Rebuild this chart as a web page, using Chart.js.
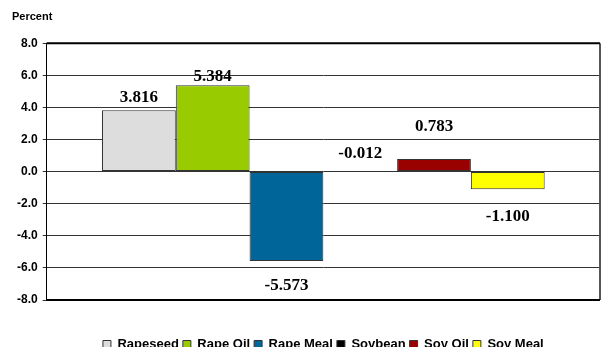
<!DOCTYPE html>
<html>
<head>
<meta charset="utf-8">
<script src="https://cdn.jsdelivr.net/npm/chart.js@4.4.0/dist/chart.umd.min.js"></script>
<style>
  html, body { margin: 0; padding: 0; background: #fff; overflow: hidden; }
</style>
</head>
<body>
<canvas id="bar-chart" width="603" height="361"></canvas>
<script>
// data
var categories = [''];
var seriesNames = ['Rapeseed', 'Rape Oil', 'Rape Meal', 'Soybean', 'Soy Oil', 'Soy Meal'];
var seriesValues = [3.816, 5.384, -5.573, -0.012, 0.783, -1.100];
var seriesColors = ['#DDDDDD', '#99CC00', '#006699', '#000000', '#990000', '#FFFF00'];
var yTicks = [-8, -6, -4, -2, 0, 2, 4, 6, 8];

// label offset from bar end, in px (excel put them a bit all over)
var labelOffsets = [-13, -9, 25, -18, -32, 27];

//Value labels
var valueLabels = {
  id: 'valueLabels',
  afterDatasetsDraw: function (chart) {
    var ctx = chart.ctx;
    ctx.save();
    ctx.font = 'bold 17px "Liberation Serif", "Times New Roman", serif';
    ctx.fillStyle = '#000';
    ctx.textAlign = 'center';
    ctx.textBaseline = 'middle';
    chart.data.datasets.forEach(function (ds, i) {
      var bar = chart.getDatasetMeta(i).data[0];
      var y = i === 3 ? chart.scales.y.getPixelForValue(0) : bar.y;
      ctx.fillText(ds.data[0].toFixed(3), bar.x, y + labelOffsets[i]);
    });
    ctx.restore();
  }
};

//Center legend under the plot, not the canvas
var legendShift = {
  id: 'legendShift',
  afterLayout: function (chart) {
    var lg = chart.legend, a = chart.chartArea;
    var w = lg.right - lg.left;
    var mid = (a.left + a.right) / 2;
    lg.left = mid - w / 2;
    lg.right = mid + w / 2;
  }
};

//Plot frame
var frame = {
  id: 'frame',
  afterDraw: function (chart) {
    var a = chart.chartArea, ctx = chart.ctx;
    ctx.save();
    ctx.strokeStyle = '#555';
    ctx.lineWidth = 2;
    ctx.beginPath();
    ctx.moveTo(a.right, a.top);
    ctx.lineTo(a.right, a.bottom);
    ctx.stroke();
    ctx.strokeStyle = '#000';
    ctx.beginPath();
    ctx.moveTo(a.left, a.top);
    ctx.lineTo(a.right, a.top);
    ctx.moveTo(a.left, a.bottom);
    ctx.lineTo(a.right, a.bottom);
    ctx.stroke();
    ctx.restore();
  }
};

new Chart(document.getElementById('bar-chart'), {
  type: 'bar',
  data: {
    labels: categories,
    datasets: seriesNames.map(function (name, i) {
      return {
        label: name,
        data: [seriesValues[i]],
        backgroundColor: seriesColors[i],
        borderColor: '#333',
        borderWidth: 1,
        borderSkipped: false
      };
    })
  },
  options: {
    responsive: false,
    animation: false,
    layout: { padding: { left: 12, right: 3, top: 0, bottom: 0 } },
    datasets: { bar: { categoryPercentage: 0.8, barPercentage: 1.0 } },
    scales: {
      x: {
        grid: { display: false, drawTicks: false },
        border: { display: false },
        ticks: { display: false },
        title: { display: true, text: '', font: { size: 10 }, padding: { top: 11, bottom: 11 } }
      },
      y: {
        min: -8,
        max: 8,
        afterBuildTicks: function (axis) {
          axis.ticks = yTicks.map(function (v) { return { value: v }; });
        },
        ticks: {
          color: '#000',
          padding: 5,
          font: { family: 'Arial, "Liberation Sans", sans-serif', size: 12, weight: 'bold' },
          callback: function (v) { return v.toFixed(1); }
        },
        grid: { color: '#333', lineWidth: 1, tickLength: 4 },
        border: { display: true, color: '#000', width: 1 }
      }
    },
    plugins: {
      title: {
        display: true,
        text: 'Percent',
        align: 'start',
        color: '#000',
        font: { family: 'Arial, "Liberation Sans", sans-serif', size: 11, weight: 'bold' },
        padding: { top: 10, bottom: 20 }
      },
      legend: {
        position: 'bottom',
        labels: {
          color: '#000',
          boxWidth: 8,
          boxHeight: 8,
          padding: 4,
          font: { family: 'Arial, "Liberation Sans", sans-serif', size: 13, weight: 'bold' }
        }
      },
      tooltip: { enabled: false }
    }
  },
  plugins: [valueLabels, legendShift, frame]
});
</script>
</body>
</html>
